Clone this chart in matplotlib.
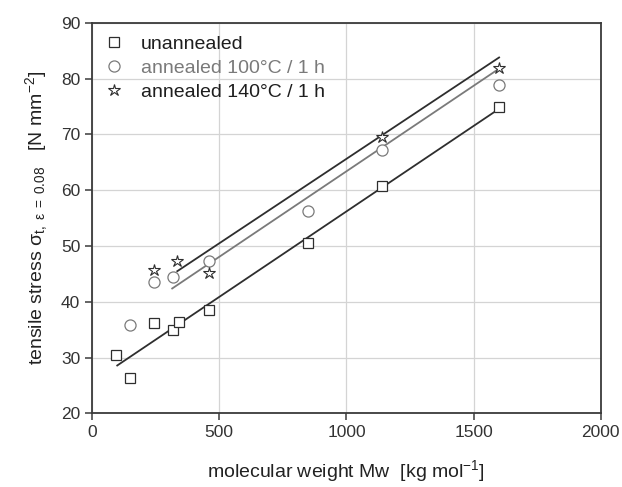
import matplotlib
matplotlib.use("Agg")
import matplotlib.pyplot as plt

plt.rcParams.update({
    "font.family": ["Liberation Sans", "DejaVu Sans"],
    "font.size": 13.5,
    "mathtext.fontset": "custom",
    "mathtext.rm": "Liberation Sans",
    "mathtext.it": "Liberation Sans:italic",
})

# molecular weight Mw [kg/mol] and tensile stress [N/mm2]
MW_UN = [95, 150, 245, 320, 340, 460, 850, 1140, 1600]
SIG_UN = [30.4, 26.4, 36.2, 35.0, 36.4, 38.6, 50.6, 60.8, 75.0]

MW_100 = [150, 245, 320, 460, 850, 1140, 1600]
SIG_100 = [35.8, 43.5, 44.5, 47.4, 56.3, 67.3, 78.8]

MW_140 = [245, 335, 460, 1140, 1600]
SIG_140 = [45.7, 47.3, 45.2, 69.6, 81.9]

# fitted lines (end points)
FIT_UN_X = [99, 1600]
FIT_UN_Y = [28.6, 74.6]
FIT_100_X = [315, 1600]
FIT_100_Y = [42.4, 81.8]
FIT_140_X = [335, 1600]
FIT_140_Y = [45.5, 83.8]

DARK = "#2e2e2e"
GREY = "#7a7a7a"

fig = plt.figure(figsize=(6.22, 4.87), dpi=100)
ax = fig.add_axes([0.148, 0.151, 0.818, 0.802])

ax.plot(FIT_UN_X, FIT_UN_Y, color=DARK, lw=1.3)
ax.plot(FIT_100_X, FIT_100_Y, color=GREY, lw=1.3)
ax.plot(FIT_140_X, FIT_140_Y, color=DARK, lw=1.3)

ax.plot(MW_UN, SIG_UN, ls="none", marker="s", ms=7.5, mfc="white",
        mec=DARK, mew=0.9, label="unannealed")
ax.plot(MW_100, SIG_100, ls="none", marker="o", ms=8, mfc="white",
        mec=GREY, mew=0.9, label="annealed 100°C / 1 h")
ax.plot(MW_140, SIG_140, ls="none", marker="*", ms=9, mfc="white",
        mec=DARK, mew=0.8, label="annealed 140°C / 1 h")

ax.set_xlim(0, 2000)
ax.set_ylim(20, 90)
ax.set_xticks([0, 500, 1000, 1500, 2000])
ax.set_yticks(range(20, 91, 10))
ax.grid(True, color="#d4d4d4", lw=0.9)
ax.set_axisbelow(True)
for s in ax.spines.values():
    s.set_color("#3a3a3a")
    s.set_linewidth(1.3)
ax.tick_params(direction="out", length=5, width=1.1, color="#3a3a3a",
               labelcolor="#333333", labelsize=12.5)

ax.set_xlabel("molecular weight Mw  [kg mol$^{-1}$]", color="#222222",
              fontsize=14, labelpad=13)
ax.set_ylabel("tensile stress σ$_{\\rm t,\\ ε\\ =\\ 0.08}$   [N mm$^{-2}$]",
              color="#222222", fontsize=14, labelpad=8)

leg = ax.legend(loc="upper left", frameon=False, handlelength=1.0,
                handletextpad=0.85, labelspacing=0.32, fontsize=14,
                bbox_to_anchor=(0.0, 1.0), borderaxespad=0.25)
for txt, col in zip(leg.get_texts(), ["#1e1e1e", GREY, "#1e1e1e"]):
    txt.set_color(col)

fig.savefig("out.png", dpi=100, facecolor="white")
